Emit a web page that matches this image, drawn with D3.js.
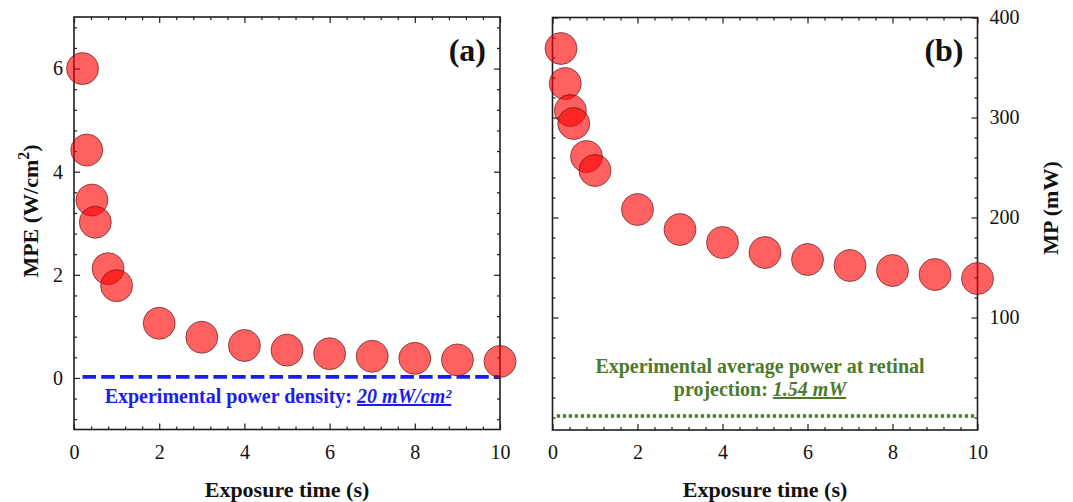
<!DOCTYPE html>
<html><head><meta charset="utf-8">
<script src="https://cdn.jsdelivr.net/npm/d3@7"></script>
<style>
body{margin:0;background:#fff}
text{font-family:"Liberation Serif","Times New Roman",serif}
</style>
</head><body>
<svg id="c" width="1073" height="502"></svg>
<script>
// ---- data ----
const exposureTime = [0.2, 0.3, 0.42, 0.5, 0.8, 1, 2, 3, 4, 5, 6, 7, 8, 9, 10];
const mpeValues = [6.0, 4.42, 3.45, 3.02, 2.12, 1.79, 1.06, 0.79, 0.63, 0.54, 0.47, 0.42, 0.38, 0.35, 0.32];
const mpValues = [369, 334, 307, 294, 261, 247, 208, 188, 175, 165, 158, 152, 147, 143, 139];
const xTickValues = [0, 2, 4, 6, 8, 10];
const mpeTickValues = [0, 2, 4, 6];
const mpTickValues = [100, 200, 300, 400];
const experimentalPowerDensity = 0.02; // W/cm² (20 mW/cm²)
const experimentalAveragePower = 1.54; // mW

// ---- setup ----
const svg = d3.select("#c");
const INK = "#1e1e1e";
const BLUE = "#1c1cf0";
const GREEN = "#4d7a2a";

function panel(cfg) {
  const g = svg.append("g");
  const x = d3.scaleLinear().domain([0, 10]).range([cfg.x0, cfg.x1]);
  const y = d3.scaleLinear().domain(cfg.yDomain).range([cfg.yBot, cfg.yTop]);
  const xMinor = d3.range(1, 25).filter(i => i % 5 !== 0).map(i => i * 0.4);

  const style = sel => {
    sel.select(".domain").remove();
    sel.selectAll(".tick line").attr("stroke", INK).attr("stroke-width", 1.2);
    sel.selectAll(".tick text").attr("fill", "#111").style("font-size", "20px")
      .style("font-family", '"Liberation Serif","Times New Roman",serif');
  };
  // bottom x
  g.append("g").attr("transform", `translate(0,${cfg.yBot})`)
    .call(d3.axisBottom(x).tickValues(xTickValues).tickSize(-6).tickPadding(15)).call(style);
  g.append("g").attr("transform", `translate(0,${cfg.yBot})`)
    .call(d3.axisBottom(x).tickValues(xMinor).tickSize(-3).tickFormat("")).call(style);
  // top x
  g.append("g").attr("transform", `translate(0,${cfg.yTop})`)
    .call(d3.axisTop(x).tickValues(xTickValues).tickSize(-6).tickFormat("")).call(style);
  g.append("g").attr("transform", `translate(0,${cfg.yTop})`)
    .call(d3.axisTop(x).tickValues(xMinor).tickSize(-3).tickFormat("")).call(style);
  // left y
  g.append("g").attr("transform", `translate(${cfg.x0},0)`)
    .call(d3.axisLeft(y).tickValues(cfg.yMajor).tickSize(-6).tickPadding(11)
      .tickFormat(cfg.labelSide === "left" ? d3.format("d") : "")).call(style);
  g.append("g").attr("transform", `translate(${cfg.x0},0)`)
    .call(d3.axisLeft(y).tickValues(cfg.yMinor).tickSize(-3).tickFormat("")).call(style);
  // right y
  g.append("g").attr("transform", `translate(${cfg.x1},0)`)
    .call(d3.axisRight(y).tickValues(cfg.yMajor).tickSize(-6).tickPadding(12)
      .tickFormat(cfg.labelSide === "right" ? d3.format("d") : "")).call(style);
  g.append("g").attr("transform", `translate(${cfg.x1},0)`)
    .call(d3.axisRight(y).tickValues(cfg.yMinor).tickSize(-3).tickFormat("")).call(style);

  // frame
  g.append("rect").attr("x", cfg.x0).attr("y", cfg.yTop)
    .attr("width", cfg.x1 - cfg.x0).attr("height", cfg.yBot - cfg.yTop)
    .attr("fill", "none").attr("stroke", INK).attr("stroke-width", 1.6);

  // reference line
  g.append("line")
    .attr("x1", x(cfg.refStart)).attr("x2", x(10))
    .attr("y1", y(cfg.refValue)).attr("y2", y(cfg.refValue))
    .attr("stroke", cfg.refColor).attr("stroke-width", cfg.refWidth)
    .attr("stroke-dasharray", cfg.refDash);

  // points
  g.append("g").selectAll("circle").data(exposureTime.map((t, i) => [t, cfg.values[i]]))
    .join("circle")
    .attr("cx", d => x(d[0])).attr("cy", d => y(d[1])).attr("r", 16)
    .attr("fill", "#ff0000").attr("fill-opacity", 0.62)
    .attr("stroke", "#4a1515").attr("stroke-opacity", 0.7).attr("stroke-width", 0.9);

  // panel letter
  g.append("text").attr("x", cfg.x1 - 14).attr("y", 61).attr("text-anchor", "end")
    .style("font-size", "32px").style("font-weight", "bold").attr("fill", "#111").text(cfg.letter);

  // x title
  g.append("text").attr("x", (cfg.x0 + cfg.x1) / 2).attr("y", 497).attr("text-anchor", "middle")
    .style("font-size", "22px").style("font-weight", "bold").attr("fill", "#111").text("Exposure time (s)");
  return {g, x, y};
}

// ---- panel (a) ----
const A = panel({
  x0: 74, x1: 500, yTop: 17, yBot: 429.5, yDomain: [-1, 7],
  yMajor: mpeTickValues,
  yMinor: d3.range(-2, 18).filter(i => i % 5 !== 0).map(i => +(i * 0.4).toFixed(1)),
  labelSide: "left", values: mpeValues,
  refStart: 0.2, refValue: experimentalPowerDensity, refColor: BLUE, refWidth: 3.6, refDash: "13.5,5.2",
  letter: "(a)"
});
// y title (a)
const ta = A.g.append("text").attr("transform", "translate(38,211) rotate(-90)")
  .attr("text-anchor", "middle").style("font-size", "22px").style("font-weight", "bold").attr("fill", "#111");
ta.append("tspan").text("MPE (W/cm");
ta.append("tspan").attr("dy", "-9").style("font-size", "16px").text("2");
ta.append("tspan").attr("dy", "9").text(")");

// annotation (a)
const na = A.g.append("text").attr("x", 278).attr("y", 403).attr("text-anchor", "middle")
  .style("font-size", "20px").style("font-weight", "bold").attr("fill", BLUE);
na.append("tspan").text("Experimental power density: ");
na.append("tspan").style("font-style", "italic").style("text-decoration", "underline")
  .text(`${Math.round(experimentalPowerDensity * 1000)} mW/cm²`);

// ---- panel (b) ----
const B = panel({
  x0: 552.5, x1: 977.5, yTop: 17.5, yBot: 430, yDomain: [-12.5, 400],
  yMajor: mpTickValues,
  yMinor: d3.range(0, 400, 20).filter(v => v % 100 !== 0 || v === 0),
  labelSide: "right", values: mpValues,
  refStart: 0.1, refValue: experimentalAveragePower, refColor: GREEN, refWidth: 3.6, refDash: "3.4,2.6",
  letter: "(b)"
});
B.g.append("text").attr("transform", "translate(1058,208) rotate(-90)")
  .attr("text-anchor", "middle").style("font-size", "22px").style("font-weight", "bold").attr("fill", "#111")
  .text("MP (mW)");

const nb = B.g.append("g").attr("fill", GREEN).style("font-size", "20px").style("font-weight", "bold");
nb.append("text").attr("x", 760).attr("y", 372.5).attr("text-anchor", "middle")
  .text("Experimental average power at retinal");
const nb2 = nb.append("text").attr("x", 760).attr("y", 396).attr("text-anchor", "middle");
nb2.append("tspan").text("projection: ");
nb2.append("tspan").style("font-style", "italic").style("text-decoration", "underline")
  .text(`${experimentalAveragePower} mW`);
</script>
</body></html>
